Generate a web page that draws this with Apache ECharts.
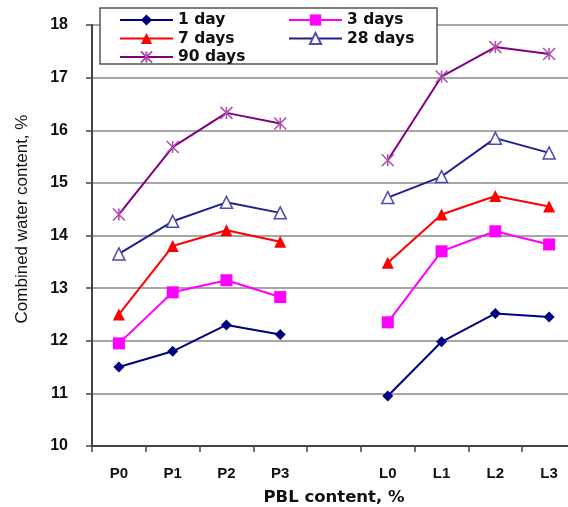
<!DOCTYPE html>
<html>
<head>
<meta charset="utf-8">
<script src="https://cdn.jsdelivr.net/npm/echarts@6/dist/echarts.min.js"></script>
<style>html,body{margin:0;padding:0;background:#fff}#c{width:568px;height:507px}</style>
</head>
<body>
<div id="c"></div>
<script>
const categories = ['P0','P1','P2','P3','','L0','L1','L2','L3'];
const day1  = [11.50, 11.80, 12.30, 12.12, null, 10.95, 11.98, 12.52, 12.45];
const day3  = [11.95, 12.92, 13.15, 12.83, null, 12.35, 13.70, 14.08, 13.83];
const day7  = [12.50, 13.80, 14.10, 13.88, null, 13.48, 14.40, 14.75, 14.55];
const day28 = [13.65, 14.27, 14.63, 14.43, null, 14.72, 15.12, 15.85, 15.57];
const day90 = [14.40, 15.68, 16.33, 16.13, null, 15.43, 17.02, 17.58, 17.45];
const yTicks = [10, 11, 12, 13, 14, 15, 16, 17, 18];
const yTitle = 'Combined water content, %';
const xTitle = 'PBL content, %';

const chart = echarts.init(document.getElementById('c'));
const starPath = 'path://M0,0L10,10M10,0L0,10M5,0L5,10';
const legendText = {fontFamily:'DejaVu Sans', fontWeight:'bold', fontSize:15.5, lineHeight:18, color:'#111'};
function ser(name, data, color, symbol, size, itemStyle){
  return {name, type:'line', data, symbol, symbolSize:size, showSymbol:true,
    lineStyle:{color, width:2}, itemStyle:itemStyle||{color}, connectNulls:false, animation:false};
}
chart.setOption({
  animation:false,
  graphic:[
    {type:'rect', shape:{x:100,y:8,width:337,height:56}, style:{fill:'#fff', stroke:'#555', lineWidth:1.5}, z:5},
    {type:'text', x:22, y:219, rotation:Math.PI/2, z:5,
      style:{text:yTitle, fontFamily:'Liberation Sans', fontSize:17, fill:'#111', align:'center', verticalAlign:'middle'}}
  ],
  legend:[
    {data:['1 day','7 days','90 days'], orient:'vertical', left:119, top:11, padding:0, itemWidth:53, itemHeight:14, itemGap:0.5, textStyle:legendText, z:6},
    {data:['3 days','28 days'], orient:'vertical', left:288, top:11, padding:0, itemWidth:53, itemHeight:14, itemGap:0.5, textStyle:legendText, z:6}
  ],
  grid:{left:92, right:-8, top:25, bottom:61, outerBoundsMode:'none', containLabel:false},
  xAxis:{type:'category', data:categories, boundaryGap:true,
    name:xTitle, nameLocation:'middle', nameGap:43,
    nameTextStyle:{fontFamily:'DejaVu Sans', fontWeight:'bold', fontSize:16.5, color:'#111'},
    axisLine:{lineStyle:{color:'#444', width:2}},
    axisTick:{show:true, interval:0, length:6, lineStyle:{color:'#444', width:1.5}},
    axisLabel:{interval:0, margin:20, fontFamily:'Liberation Sans', fontWeight:'bold', fontSize:15, color:'#111'},
    splitLine:{show:false}},
  yAxis:{type:'value', min:10, max:18, interval:1,
    axisLine:{show:true, lineStyle:{color:'#444', width:2}},
    axisTick:{show:true, length:6, lineStyle:{color:'#444', width:1.5}},
    axisLabel:{margin:24, fontFamily:'Liberation Sans', fontWeight:'bold', fontSize:16, color:'#111',
      formatter:v=>yTicks.includes(v)?String(v):''},
    splitLine:{show:true, lineStyle:{color:'#888', width:1.5}}},
  series:[
    ser('1 day', day1, '#000080', 'diamond', 11),
    ser('3 days', day3, '#FF00FF', 'rect', 12),
    ser('7 days', day7, '#FF0000', 'triangle', 12),
    ser('28 days', day28, '#1F1F8F', 'triangle', 12, {color:'#fff', borderColor:'#4B4BB0', borderWidth:1.5}),
    ser('90 days', day90, '#800080', starPath, 12, {color:'rgba(0,0,0,0)', borderColor:'#B04CB0', borderWidth:1.5})
  ]
});
</script>
</body>
</html>
